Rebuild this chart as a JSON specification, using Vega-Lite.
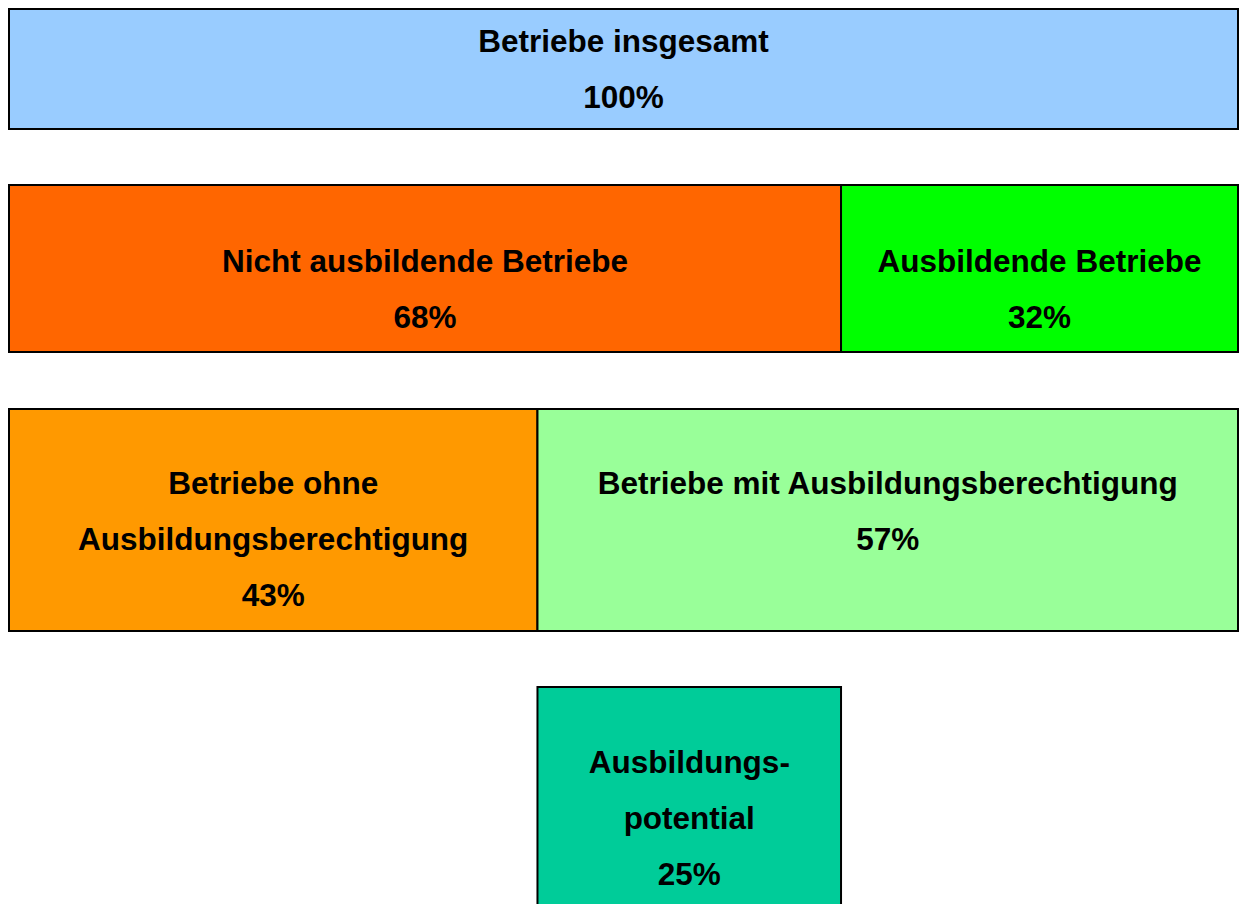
{
  "$schema": "https://vega.github.io/schema/vega-lite/v6.json",
  "width": 1239,
  "height": 904,
  "padding": 0,
  "autosize": {"type": "none"},
  "background": "white",
  "config": {"view": {"stroke": null}},
  "data": {
    "values": [
      {"box": "Betriebe insgesamt", "label": "Betriebe insgesamt\n100%", "p0": 0, "p1": 100, "y0": 9, "y1": 129, "ty": 52},
      {"box": "Nicht ausbildende Betriebe", "label": "Nicht ausbildende Betriebe\n68%", "p0": 0, "p1": 67.7, "y0": 185, "y1": 352, "ty": 272},
      {"box": "Ausbildende Betriebe", "label": "Ausbildende Betriebe\n32%", "p0": 67.7, "p1": 100, "y0": 185, "y1": 352, "ty": 272},
      {"box": "Betriebe ohne Ausbildungsberechtigung", "label": "Betriebe ohne\nAusbildungsberechtigung\n43%", "p0": 0, "p1": 43, "y0": 409, "y1": 631, "ty": 494},
      {"box": "Betriebe mit Ausbildungsberechtigung", "label": "Betriebe mit Ausbildungsberechtigung\n57%", "p0": 43, "p1": 100, "y0": 409, "y1": 631, "ty": 494},
      {"box": "Ausbildungspotential", "label": "Ausbildungs-\npotential\n25%", "p0": 43, "p1": 67.7, "y0": 687, "y1": 930, "ty": 773}
    ]
  },
  "layer": [
    {
      "mark": {"type": "rect", "stroke": "black", "strokeWidth": 2, "clip": true},
      "encoding": {
        "x": {"field": "p0", "type": "quantitative", "scale": {"domain": [0, 100], "range": [9, 1238]}, "axis": null},
        "x2": {"field": "p1"},
        "y": {"field": "y0", "type": "quantitative", "scale": {"domain": [0, 904], "range": [0, 904]}, "axis": null},
        "y2": {"field": "y1"},
        "color": {
          "field": "box", "type": "nominal", "legend": null,
          "scale": {
            "domain": ["Betriebe insgesamt", "Nicht ausbildende Betriebe", "Ausbildende Betriebe", "Betriebe ohne Ausbildungsberechtigung", "Betriebe mit Ausbildungsberechtigung", "Ausbildungspotential"],
            "range": ["#99CCFF", "#FF6600", "#00FF00", "#FF9900", "#99FF99", "#00CC99"]
          }
        }
      }
    },
    {
      "transform": [{"calculate": "(datum.p0 + datum.p1) / 2", "as": "pm"}],
      "mark": {"type": "text", "font": "Liberation Sans", "fontWeight": "bold", "fontSize": 31.5, "lineBreak": "\n", "lineHeight": 56, "align": "center", "baseline": "alphabetic", "color": "black"},
      "encoding": {
        "x": {"field": "pm", "type": "quantitative", "scale": {"domain": [0, 100], "range": [9, 1238]}, "axis": null},
        "y": {"field": "ty", "type": "quantitative", "scale": {"domain": [0, 904], "range": [0, 904]}, "axis": null},
        "text": {"field": "label", "type": "nominal"}
      }
    }
  ]
}
